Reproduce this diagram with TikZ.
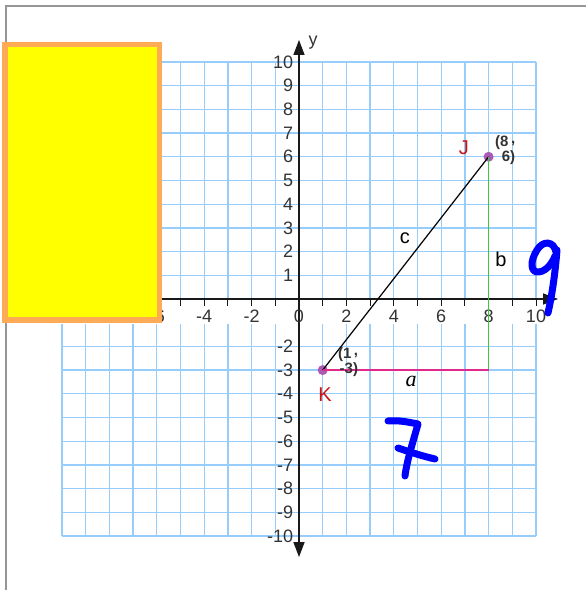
\documentclass[tikz,border=0pt]{standalone}
\usepackage{fontspec}
\setmainfont{Liberation Sans}
\newfontfamily\seriffont{Liberation Serif}
\usetikzlibrary{arrows.meta}
\definecolor{gridblue}{RGB}{150,205,250}
\definecolor{boxfill}{RGB}{255,255,0}
\definecolor{boxedge}{RGB}{255,170,85}
\definecolor{framegray}{RGB}{150,150,150}
\definecolor{labgray}{RGB}{51,51,51}
\definecolor{axisdark}{RGB}{25,25,25}
\definecolor{dotpurple}{RGB}{170,90,180}
\definecolor{pinkside}{RGB}{225,40,140}
\definecolor{greenside}{RGB}{60,200,60}
\definecolor{ptred}{RGB}{200,20,20}
\definecolor{inkblue}{RGB}{0,0,255}
\begin{document}
\begin{tikzpicture}[
  gridline/.style={draw=gridblue, line width=1.3pt},
  axisline/.style={draw=axisdark, line width=1.4pt,
    {Triangle[width=11pt,length=15pt]}-{Triangle[width=11pt,length=15pt]}},
  tickmark/.style={draw=axisdark, line width=1pt},
  axlab/.style={text=labgray, font=\fontsize{18pt}{18pt}\selectfont, inner sep=1pt},
  ptdot/.style={circle, fill=dotpurple, minimum size=10pt, inner sep=0pt},
  ptname/.style={text=ptred, font=\fontsize{20pt}{20pt}\selectfont, inner sep=0pt},
  coordlab/.style={text=labgray, font=\bfseries\fontsize{15pt}{15pt}\selectfont, align=right, inner sep=0pt},
  sidelab/.style={text=black, font=\fontsize{20pt}{20pt}\selectfont, inner sep=0pt},
  cside/.style={draw=black, line width=1.2pt},
  aside/.style={draw=pinkside, line width=1.8pt},
  bside/.style={draw=greenside, line width=1.5pt},
  ink/.style={draw=inkblue, line width=7pt, line cap=round, line join=round},
]
\useasboundingbox (0,0) rectangle (586pt,590pt);
\begin{scope}[shift={(299pt,291pt)}, x=23.7pt, y=23.7pt]
  % grid
  \draw[gridline, step=1] (-10,-10) grid (10,10);
  % white band behind x labels
  \fill[white] (-10.2,-0.06) rectangle (10.2,-1.045);
  % ticks
  \foreach \i in {-10,...,10} \draw[tickmark] (\i,0) -- (\i,-0.3);
  % axes
  \coordinate (xl) at (-10.93,0);
  \coordinate (xr) at (10.93,0);
  \coordinate (yb) at (0,-10.89);
  \coordinate (yt) at (0,10.93);
  \draw[axisline] (xl) -- (xr);
  \draw[axisline] (yb) -- (yt);
  \node[axlab, anchor=center] (ylab) at (0.6,10.8) {y};
  % axis labels
  \foreach \i in {-6,-4,...,10} \node[axlab] (xlab\i) at (\i,-0.72) {\i};
  \foreach \i in {1,...,10} \node[axlab, anchor=east] (ylab\i) at (-0.2,\i) {\i};
  \foreach \i in {-2,-3,...,-10} \node[axlab, anchor=east] (ylab\i) at (-0.2,\i) {\i};
  % points
  \node[ptdot] (K) at (1,-3) {};
  \node[ptdot] (J) at (8,6) {};
  \coordinate (C) at (8,-3);
  \draw[cside] (K.center) -- (J.center);
  \draw[bside] (J.center) -- (C);
  \draw[aside] (K.center) -- (C);
  % labels
  \node[ptname] (Jname) at (6.96,6.37) {J};
  \node[ptname] (Kname) at (1.1,-4.05) {K};
  \node[coordlab] (Jcoord) at (8.7,6.27) {(8\,\raisebox{3pt}{,}\\6)};
  \node[coordlab] (Kcoord) at (2.07,-2.66) {(1\,\raisebox{3pt}{,}\\-3)};
  \node[sidelab] (clab) at (4.47,2.57) {c};
  \node[sidelab] (blab) at (8.52,1.69) {b};
  \node[sidelab, font=\seriffont\itshape\fontsize{22pt}{22pt}\selectfont] (alab) at (4.73,-3.46) {a};
\end{scope}
\begin{scope}[yshift=590pt, x=1pt, y=-1pt]
  % frame
  \draw[framegray, line width=1.5pt] (6,590) -- (6,6) -- (586,6);
  % yellow box
  \draw[draw=boxedge, fill=boxfill, line width=5.5pt] (4.75,44.75) rectangle (159.25,320.25);
  % handwritten 9
  \draw[ink] (556,252) .. controls (554,241) and (543,240) .. (537,250)
             .. controls (530,261) and (530,273) .. (539,272)
             .. controls (546,271) and (552,264) .. (555,256);
  \draw[ink] (557,250) .. controls (555,275) and (552,295) .. (548,313);
  % handwritten 7
  \draw[ink] (388,421) .. controls (398,420) and (408,422) .. (418,424)
             .. controls (413,442) and (407,460) .. (405,476);
  \draw[ink] (398,448) .. controls (410,452) and (422,456) .. (435,459);
\end{scope}
\end{tikzpicture}
\end{document}
